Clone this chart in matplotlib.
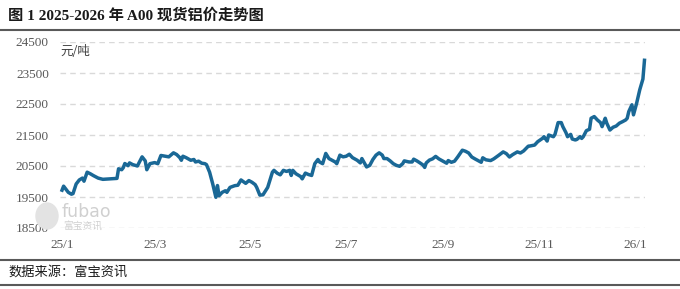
import pandas as pd
import matplotlib.pyplot as plt
from matplotlib.patches import Ellipse

plt.rcParams['font.family'] = ['Noto Sans CJK SC', 'DejaVu Sans']

# A00 spot aluminium price, yuan/ton
dates = [
    '2025-01-01', '2025-01-02', '2025-01-05', '2025-01-07', '2025-01-08', '2025-01-10',
    '2025-01-12', '2025-01-14', '2025-01-15', '2025-01-17', '2025-01-19', '2025-01-21',
    '2025-01-24', '2025-01-27', '2025-02-05', '2025-02-06', '2025-02-08', '2025-02-09',
    '2025-02-10', '2025-02-12', '2025-02-13', '2025-02-15', '2025-02-18', '2025-02-21',
    '2025-02-23', '2025-02-24', '2025-02-26', '2025-03-01', '2025-03-03', '2025-03-05',
    '2025-03-08', '2025-03-10', '2025-03-13', '2025-03-15', '2025-03-17', '2025-03-18',
    '2025-03-19', '2025-03-21', '2025-03-24', '2025-03-26', '2025-03-27', '2025-03-29',
    '2025-03-31', '2025-04-02', '2025-04-03', '2025-04-05', '2025-04-07', '2025-04-09',
    '2025-04-10', '2025-04-11', '2025-04-13', '2025-04-15', '2025-04-16', '2025-04-18',
    '2025-04-21', '2025-04-23', '2025-04-25', '2025-04-28', '2025-04-30', '2025-05-02',
    '2025-05-04', '2025-05-05', '2025-05-07', '2025-05-09', '2025-05-10', '2025-05-12',
    '2025-05-15', '2025-05-16', '2025-05-18', '2025-05-20', '2025-05-22', '2025-05-24',
    '2025-05-26', '2025-05-27', '2025-05-28', '2025-05-30', '2025-06-02', '2025-06-03',
    '2025-06-05', '2025-06-07', '2025-06-09', '2025-06-11', '2025-06-13', '2025-06-14',
    '2025-06-16', '2025-06-18', '2025-06-20', '2025-06-22', '2025-06-24', '2025-06-25',
    '2025-06-27', '2025-06-29', '2025-07-01', '2025-07-03', '2025-07-05', '2025-07-08',
    '2025-07-10', '2025-07-11', '2025-07-14', '2025-07-16', '2025-07-18', '2025-07-20',
    '2025-07-22', '2025-07-24', '2025-07-25', '2025-07-27', '2025-07-29', '2025-07-31',
    '2025-08-02', '2025-08-04', '2025-08-06', '2025-08-07', '2025-08-10', '2025-08-12',
    '2025-08-13', '2025-08-15', '2025-08-17', '2025-08-19', '2025-08-20', '2025-08-21',
    '2025-08-23', '2025-08-25', '2025-08-27', '2025-08-29', '2025-08-31', '2025-09-03',
    '2025-09-04', '2025-09-06', '2025-09-08', '2025-09-10', '2025-09-13', '2025-09-15',
    '2025-09-17', '2025-09-19', '2025-09-21', '2025-09-23', '2025-09-25', '2025-09-26',
    '2025-09-28', '2025-10-01', '2025-10-03', '2025-10-06', '2025-10-09', '2025-10-11',
    '2025-10-13', '2025-10-15', '2025-10-18', '2025-10-20', '2025-10-22', '2025-10-25',
    '2025-10-26', '2025-10-29', '2025-10-31', '2025-11-03', '2025-11-04', '2025-11-06',
    '2025-11-07', '2025-11-10', '2025-11-11', '2025-11-13', '2025-11-15', '2025-11-16',
    '2025-11-18', '2025-11-19', '2025-11-21', '2025-11-22', '2025-11-24', '2025-11-25',
    '2025-11-27', '2025-11-28', '2025-11-29', '2025-12-01', '2025-12-03', '2025-12-04',
    '2025-12-06', '2025-12-08', '2025-12-10', '2025-12-11', '2025-12-13', '2025-12-14',
    '2025-12-16', '2025-12-18', '2025-12-20', '2025-12-22', '2025-12-24', '2025-12-26',
    '2025-12-27', '2025-12-28', '2025-12-30', '2025-12-31', '2026-01-02', '2026-01-04',
    '2026-01-06', '2026-01-07',
]
prices = [
    19720, 19850, 19650, 19590, 19610, 19920,
    20050, 20110, 20010, 20300, 20250, 20190,
    20110, 20070, 20100, 20410, 20380, 20445,
    20580, 20510, 20600, 20545, 20500, 20795,
    20665, 20380, 20575, 20610, 20575, 20840,
    20815, 20795, 20925, 20870, 20770, 20685,
    20815, 20770, 20685, 20710, 20630, 20655,
    20590, 20575, 20545, 20300, 19920, 19490,
    19870, 19540, 19650, 19700, 19650, 19810,
    19865, 19880, 20050, 19940, 20030, 19975,
    19900, 19810, 19560, 19570, 19650, 19810,
    20300, 20360, 20270, 20215, 20360, 20325,
    20360, 20195, 20360, 20250, 20160, 20085,
    20270, 20225, 20195, 20575, 20710, 20630,
    20575, 20905, 20740, 20685, 20630, 20575,
    20850, 20795, 20815, 20880, 20770, 20685,
    20600, 20740, 20470, 20520, 20710, 20850,
    20925, 20850, 20740, 20740, 20665, 20575,
    20520, 20490, 20575, 20665, 20630, 20630,
    20720, 20665, 20600, 20530, 20455, 20600,
    20690, 20730, 20810, 20730, 20675, 20590,
    20675, 20620, 20655, 20790, 21010, 20975,
    20920, 20790, 20730, 20675, 20620, 20765,
    20700, 20675, 20730, 20840, 20955, 20900,
    20790, 20865, 20955, 20920, 20985, 21140,
    21145, 21175, 21285, 21390, 21445, 21305,
    21500, 21445, 21520, 21900, 21900, 21770,
    21575, 21445, 21520, 21370, 21340, 21360,
    21445, 21390, 21445, 21640, 21685, 22040,
    22095, 21985, 21900, 21770, 22040, 21880,
    21660, 21750, 21790, 21880, 21930, 21985,
    22040, 22255, 22475, 22150, 22525, 22960,
    23305, 23910,
]

yticks = [18500, 19500, 20500, 21500, 22500, 23500, 24500]
xtick_dates = ['2025-01-01', '2025-03-01', '2025-05-01', '2025-07-01',
               '2025-09-01', '2025-11-01', '2026-01-01']
xtick_labels = ['25/1', '25/3', '25/5', '25/7', '25/9', '25/11', '26/1']

W, H = 680, 289
fig = plt.figure(figsize=(W / 100, H / 100), dpi=100)
fig.patch.set_facecolor('white')

ax = fig.add_axes([60 / W, 1 - 228 / H, 585 / W, 186 / H])
x = pd.to_datetime(dates)
ax.plot(x, prices, color='#1a6896', lw=2.5, solid_joinstyle='round', zorder=3, clip_on=False)

ax.set_xlim(pd.Timestamp('2024-12-30 17:00'), pd.Timestamp('2026-01-07 08:00'))
ax.set_ylim(18500, 24500)
ax.set_yticks(yticks)
ax.set_yticklabels([str(v) for v in yticks], family='Liberation Serif', fontsize=9.5, color='#595959')
ax.set_xticks(pd.to_datetime(xtick_dates))
ax.set_xticklabels(xtick_labels, family='Liberation Serif', fontsize=9.5, color='#595959')
ax.tick_params(length=0)
ax.tick_params(axis='y', pad=8)
ax.tick_params(axis='x', pad=8)
ax.grid(axis='y', color='#d9d9d9', lw=1.0, ls=(0, (4, 3)))
for s in ax.spines.values():
    s.set_visible(False)

ax.text(0.0, 0.985, '元/吨', transform=ax.transAxes, ha='left', va='top',
        fontsize=9, color='#404040')

# watermark
fig.patches.append(Ellipse((47 / W, 1 - 216 / H), 22 / W, 26 / H, transform=fig.transFigure,
                           color='#e3e3e3', zorder=0))
fig.text(62 / W, 1 - 212 / H, 'fubao', fontsize=12.5, color='#d0d0d0', ha='left', va='center',
         family='DejaVu Sans')
fig.text(63 / W, 1 - 226 / H, '富宝资讯', fontsize=7, color='#d0d0d0', ha='left', va='center')

# title and frame lines
fig.text(8 / W, 1 - 15 / H, '图 1 2025-2026 年 A00 现货铝价走势图', fontsize=11,
         fontweight='bold', color='#1a1a1a', ha='left', va='center',
         family=['Liberation Serif', 'Noto Sans CJK SC'])
for yy in (30, 260, 285):
    fig.add_artist(plt.Line2D([0, 1], [1 - yy / H, 1 - yy / H], transform=fig.transFigure,
                              color='#595959', lw=1.5))
fig.text(8 / W, 1 - 272 / H, '数据来源：富宝资讯', fontsize=9.5, color='#1a1a1a',
         ha='left', va='center')

fig.savefig('out.png', dpi=100)
